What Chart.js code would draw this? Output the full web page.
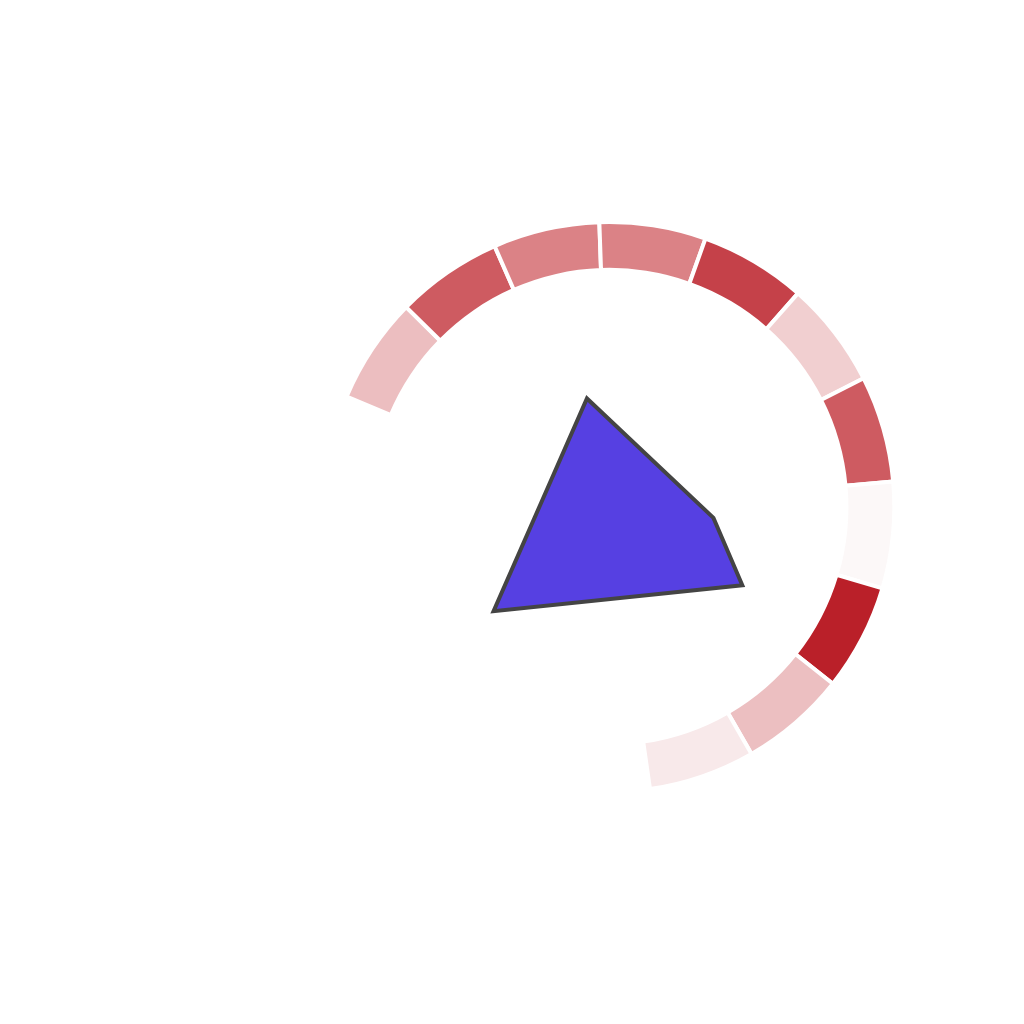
<!DOCTYPE html>
<html>
<head>
<meta charset="utf-8">
<script src="https://cdn.jsdelivr.net/npm/chart.js@4"></script>
<style>
  html, body { margin: 0; padding: 0; background: #ffffff; }
  #page { position: relative; width: 1024px; height: 1024px; overflow: hidden; }
  .box { position: absolute; }
  #ringBox { left: 335px; top: 220px; width: 571px; height: 571px; }
  #shapeBox { left: 328px; top: 223px; width: 566px; height: 566px; }
</style>
</head>
<body>
<div id="page">
  <div class="box" id="ringBox"><canvas id="ringChart"></canvas></div>
  <div class="box" id="shapeBox"><canvas id="shapeChart"></canvas></div>
</div>
<script>
// Ring segments (equal width), colour driven by heat value 0..1
var segmentWeights = [1, 1, 1, 1, 1, 1, 1, 1, 1, 1, 1];
var heatValues = [0.25, 0.70, 0.50, 0.50, 0.83, 0.18, 0.70, 0.01, 1.0, 0.245, 0.07];

// Polygon vertices (relative to ring centre, unit = outer radius)
var polyX = [-0.415, -0.085, 0.362, 0.464];
var polyY = [-0.372, 0.380, -0.042, -0.280];

// simple three stop red scale
var stops = [
    [0.0, [253, 250, 250]],
    [0.5, [219, 130, 134]],
    [1.0, [186, 32, 41]]
];
function heatColor(v) {
    for (var i = 1; i < stops.length; i++) {
        if (v <= stops[i][0]) {
            var a = stops[i - 1], b = stops[i];
            var t = (v - a[0]) / (b[0] - a[0]);
            var c = a[1].map(function (ch, k) { return Math.round(ch + (b[1][k] - ch) * t); });
            return 'rgb(' + c.join(',') + ')';
        }
    }
    var last = stops[stops.length - 1][1];
    return 'rgb(' + last.join(',') + ')';
}

function pt(i) { return { x: polyX[i], y: polyY[i] }; }

document.addEventListener('DOMContentLoaded', function () {
    new Chart(document.getElementById('ringChart'), {
        type: 'doughnut',
        data: {
            labels: heatValues.map(function (v, i) { return 'Segment ' + (i + 1); }),
            datasets: [{
                data: segmentWeights,
                backgroundColor: heatValues.map(heatColor),
                borderColor: '#ffffff',
                borderWidth: 4
            }]
        },
        options: {
            responsive: true,
            maintainAspectRatio: false,
            animation: false,
            rotation: -67.2,
            circumference: 239,
            cutout: '83.2%',
            layout: { padding: 0 },
            plugins: {
                legend: { display: false },
                tooltip: { enabled: false }
            }
        }
    });

    // closed path for the outline, upper / lower chain for the fill
    var outline = [0, 1, 2, 3, 0, 1].map(pt);
    var upper = [0, 1, 2, 3].map(pt);
    var lower = [0, 3].map(pt);

    new Chart(document.getElementById('shapeChart'), {
        type: 'scatter',
        data: {
            datasets: [{
                data: outline,
                showLine: true,
                fill: false,
                borderColor: '#444444',
                borderWidth: 4,
                borderJoinStyle: 'miter',
                pointRadius: 0
            }, {
                data: upper,
                showLine: true,
                fill: '+1',
                backgroundColor: 'rgb(86, 64, 226)',
                borderWidth: 0,
                pointRadius: 0
            }, {
                data: lower,
                showLine: true,
                fill: false,
                borderWidth: 0,
                pointRadius: 0
            }]
        },
        options: {
            responsive: true,
            maintainAspectRatio: false,
            animation: false,
            layout: { padding: 0 },
            scales: {
                x: { type: 'linear', min: -1, max: 1, display: false },
                y: { type: 'linear', min: -1, max: 1, display: false }
            },
            plugins: {
                legend: { display: false },
                tooltip: { enabled: false }
            }
        }
    });
});
</script>
</body>
</html>
